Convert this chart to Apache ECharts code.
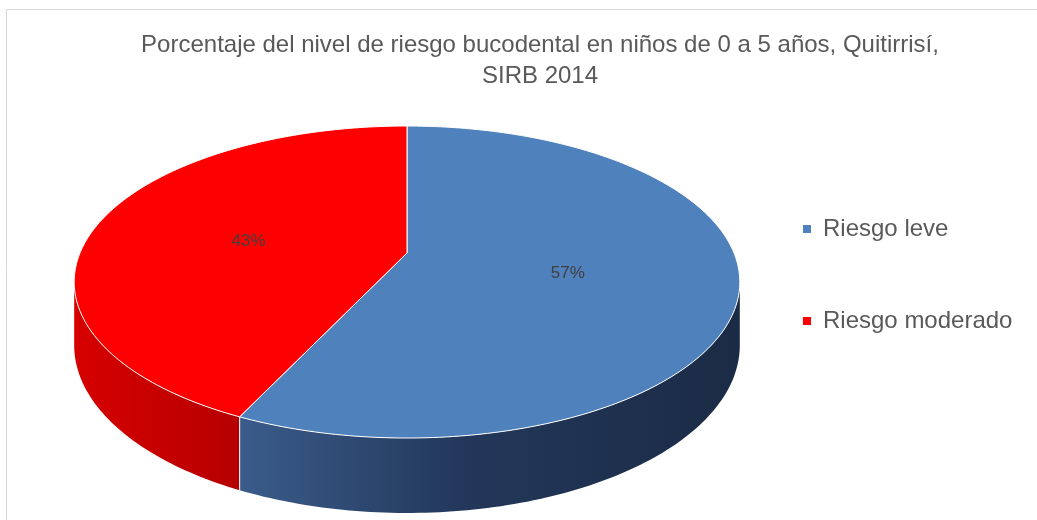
<!DOCTYPE html>
<html>
<head>
<meta charset="utf-8">
<script src="https://cdn.jsdelivr.net/npm/echarts@6/dist/echarts.min.js"></script>
<style>
  html, body { margin: 0; padding: 0; background: #fff; }
  #chart { width: 1037px; height: 520px; }
</style>
</head>
<body>
<div id="chart"></div>
<script>
// datos del gráfico
const categories = ['Riesgo leve', 'Riesgo moderado'];
const values = [57, 43];

// estilo
const colors = ['#4f81bd', '#ff0000'];
const FONT = '"Liberation Sans", Arial, sans-serif';

// proyección en perspectiva del disco (a: lateral, b: profundidad)
const CX = 407, CY = 253, A = 327, B = 150.6, K = 0.186, H = 61;
const VIS0 = 100.7 * Math.PI / 180, VIS1 = 259.3 * Math.PI / 180;

const total = values.reduce((s, v) => s + v, 0);

function proj(a, b, drop) {
  const w = 1 - K * b;
  return [CX + A * a / w, CY + (B * b + drop) / w];
}
function rim(phi, r, drop) {
  return proj(r * Math.sin(phi), -r * Math.cos(phi), drop);
}
function arc(p0, p1, r, drop) {
  const n = Math.max(2, Math.ceil(Math.abs(p1 - p0) / (Math.PI / 180)));
  const pts = [];
  for (let i = 0; i <= n; i++) pts.push(rim(p0 + (p1 - p0) * i / n, r, drop));
  return pts;
}

const sideFill = [
  { type: 'linear', x: 240, y: 0, x2: 740, y2: 0, global: true,
    colorStops: [{ offset: 0, color: '#3a5c8a' }, { offset: 0.45, color: '#22375a' }, { offset: 1, color: '#1b2b45' }] },
  { type: 'linear', x: 74, y: 0, x2: 240, y2: 0, global: true,
    colorStops: [{ offset: 0, color: '#d60000' }, { offset: 1, color: '#b60000' }] }
];

function makeRender(idx) {
  return function (params, api) {
    const v = api.value(0);
    let before = 0;
    for (let i = 0; i < idx; i++) before += values[i];
    const start = before / total * Math.PI * 2;
    const end = start + v / total * Math.PI * 2;
    const children = [];

    // pared lateral visible
    const vs = Math.max(start, VIS0), ve = Math.min(end, VIS1);
    if (ve > vs) {
      const top = arc(vs, ve, 1, 0);
      const bot = arc(ve, vs, 1, H);
      children.push({ type: 'polygon', shape: { points: top.concat(bot) }, style: { fill: sideFill[idx] } });
      [start, end].forEach(function (p) {
        if (p > VIS0 && p < VIS1) {
          const p1 = rim(p, 1, 0), p2 = rim(p, 1, H);
          children.push({ type: 'line', shape: { x1: p1[0], y1: p1[1], x2: p2[0], y2: p2[1] },
            style: { stroke: '#f2f2f2', lineWidth: 1 } });
        }
      });
    }

    // cara superior
    children.push({
      type: 'polygon',
      shape: { points: [rim(0, 0, 0)].concat(arc(start, end, 1, 0)) },
      style: { fill: colors[idx], stroke: '#ffffff', lineWidth: 1 }
    });

    // etiqueta
    const mid = (start + end) / 2;
    const lp = rim(mid, 0.5, 0);
    children.push({
      type: 'text', x: lp[0] - 2, y: lp[1] + 4,
      style: { text: Math.round(v / total * 100) + '%', fill: '#404040',
        font: '17px ' + FONT, align: 'center', verticalAlign: 'middle' }
    });
    return { type: 'group', children: children };
  };
}

const chart = echarts.init(document.getElementById('chart'));
chart.setOption({
  backgroundColor: '#ffffff',
  animation: false,
  title: {
    text: 'Porcentaje del nivel de riesgo bucodental en niños de 0 a 5 años, Quitirrisí,\nSIRB 2014',
    left: 535,
    textAlign: 'center',
    top: 25,
    padding: 5,
    textStyle: { color: '#595959', fontSize: 24, fontWeight: 'normal', fontFamily: FONT, lineHeight: 31 }
  },
  legend: {
    orient: 'vertical',
    left: 798,
    top: 212,
    itemGap: 68,
    itemWidth: 8,
    itemHeight: 8,
    icon: 'rect',
    data: categories,
    textStyle: { color: '#595959', fontSize: 24, fontFamily: FONT, padding: [0, 0, 0, 7] }
  },
  graphic: [{
    type: 'rect', silent: true, z: -1,
    shape: { x: 6.5, y: 9.5, width: 1100, height: 600 },
    style: { fill: 'none', stroke: '#d9d9d9', lineWidth: 1 }
  }],
  series: categories.map(function (name, i) {
    return {
      name: name,
      type: 'custom',
      coordinateSystem: 'none',
      itemStyle: { color: colors[i] },
      renderItem: makeRender(i),
      data: [[values[i]]]
    };
  })
});
</script>
</body>
</html>
